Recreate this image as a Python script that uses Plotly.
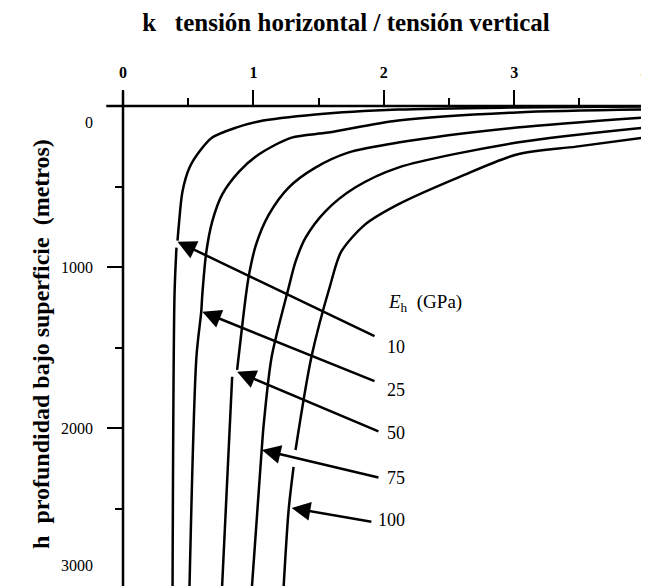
import plotly.graph_objects as go

# ---------------- data ----------------
k_ticks = [0, 1, 2, 3, 4]
depth_ticks = [0, 1000, 2000, 3000]
eh_values = ["10", "25", "50", "75", "100"]

# curve Eh = 10 GPa  (k, depth m); None = small gap where arrow touches
k_10 = [4.00, 3.02, 2.11, 1.475, 1.04, 0.867, 0.684, 0.586, 0.51, 0.456, 0.428, 0.418, None, 0.41, 0.395, 0.38]
z_10 = [3, 9, 22, 53, 96, 134, 196, 283, 382, 531, 740, 835, None, 879, 1171, 2978]

k_25 = [4.00, 3.02, 2.11, 1.574, 1.293, 1.04, 0.89, 0.76, 0.684, 0.639, 0.608, 0.60, 0.563, 0.51]
z_25 = [22, 40, 90, 165, 196, 301, 407, 550, 717, 904, 1171, 1276, 1556, 2978]

k_50 = [4.00, 3.02, 2.11, 1.726, 1.475, 1.27, 1.118, 1.02, 0.966, 0.943, 0.875, None, 0.837, 0.76]
z_50 = [71, 134, 227, 289, 382, 506, 674, 860, 1047, 1171, 1637, None, 1680, 2978]

k_75 = [4.00, 3.02, 2.11, 1.78, 1.55, 1.40, 1.323, 1.27, 1.14, 1.08, 1.065, 0.989]
z_75 = [134, 227, 382, 506, 655, 817, 966, 1127, 1556, 1966, 2115, 2978]

k_100 = [4.00, 3.475, 3.02, 2.586, 2.106, 1.855, 1.673, 1.59, 1.445, 1.323, None, 1.308, 1.27, 1.232]
z_100 = [196, 252, 301, 438, 612, 736, 904, 1109, 1556, 2134, None, 2239, 2506, 2978]

curves_k = [k_10, k_25, k_50, k_75, k_100]
curves_z = [z_10, z_25, z_50, z_75, z_100]

# arrows from each label to its curve (tip on curve, tail near label)
arrow_tip_k = [0.418, 0.608, 0.875, 1.065, 1.293]
arrow_tip_z = [842, 1276, 1649, 2134, 2494]
arrow_tail_k = [1.94, 1.94, 1.97, 1.97, 1.916]
arrow_tail_z = [1432, 1711, 2022, 2307, 2581]
label_z = [1494, 1761, 2028, 2307, 2568]
# where the depth labels sit on the page (0 and 3000 are offset in the original)
depth_label_pos = [102, 1000, 2000, 2848]

# ---------------- figure ----------------
SERIF = "Liberation Serif"
fig = go.Figure()

for kk, zz, name in zip(curves_k, curves_z, eh_values):
    fig.add_trace(go.Scatter(
        x=kk, y=zz, mode="lines", name=name,
        line=dict(color="black", width=2.5, shape="spline", smoothing=0.8),
        connectgaps=False, showlegend=False, hoverinfo="skip"))

annotations = []
for tk, tz, ak, az in zip(arrow_tip_k, arrow_tip_z, arrow_tail_k, arrow_tail_z):
    annotations.append(dict(
        x=tk, y=tz, xref="x", yref="y", ax=ak, ay=az, axref="x", ayref="y",
        text="", showarrow=True, arrowhead=2, arrowsize=1.5, arrowwidth=2.5,
        arrowcolor="black", standoff=0))

for lbl, lz in zip(eh_values, label_z):
    annotations.append(dict(
        x=2.18, y=lz, xref="x", yref="y", text=lbl, showarrow=False,
        xanchor="right", yanchor="middle",
        font=dict(family=SERIF, size=18, color="black")))

annotations.append(dict(
    x=2.02, y=1220, xref="x", yref="y",
    text="<i>E</i><sub>h</sub>  (GPa)", showarrow=False,
    xanchor="left", yanchor="middle",
    font=dict(family=SERIF, size=19, color="black")))

for lbl, pos in zip(depth_ticks, depth_label_pos):
    annotations.append(dict(
        x=-0.053, y=pos, xref="paper", yref="y", text=str(lbl), showarrow=False,
        xanchor="right", yanchor="middle",
        font=dict(family=SERIF, size=16, color="black")))

annotations.append(dict(
    x=-0.158, y=0.505, xref="paper", yref="paper",
    text="h  profundidad bajo superficie  (metros)", showarrow=False,
    textangle=-90, xanchor="center", yanchor="middle",
    font=dict(family=SERIF, size=24, color="black", weight="bold")))

# the page body adds an 8 px margin, so the figure is 8 px smaller each way
fig.update_layout(
    width=641, height=578,
    margin=dict(l=115, r=0, t=98, b=0, pad=0),
    paper_bgcolor="white", plot_bgcolor="white",
    title=dict(text="<b>k   tensión horizontal / tensión vertical</b>",
               x=(346 - 8) / 641, y=1 - (22 - 8) / 578, xref="container", yref="container",
               xanchor="center", yanchor="middle",
               font=dict(family=SERIF, size=25, color="black")),
    annotations=annotations,
    shapes=[
        dict(type="line", xref="paper", yref="paper", x0=-0.032, x1=1.0, y0=1, y1=1,
             line=dict(color="black", width=2.5)),
        dict(type="line", xref="paper", yref="paper", x0=0, x1=0, y0=0, y1=1.032,
             line=dict(color="black", width=2.5)),
    ],
    xaxis=dict(
        range=[0, 4.01], side="top", showgrid=False, zeroline=False, showline=False,
        tickmode="array", tickvals=k_ticks, ticktext=[str(t) for t in k_ticks],
        ticks="outside", ticklen=15, tickwidth=2, tickcolor="black",
        ticklabelstandoff=6, ticklabeloverflow="allow",
        minor=dict(tickmode="linear", tick0=0, dtick=0.5, ticks="outside",
                   ticklen=7, tickwidth=2, tickcolor="black", showgrid=False),
        tickfont=dict(family=SERIF, size=16, color="black", weight="bold")),
    yaxis=dict(
        range=[2978, 0], showgrid=False, zeroline=False, showline=False,
        tickmode="linear", tick0=0, dtick=1000, showticklabels=False,
        ticks="outside", ticklen=15, tickwidth=2, tickcolor="black",
        minor=dict(tickmode="linear", tick0=0, dtick=500, ticks="outside",
                   ticklen=7, tickwidth=2, tickcolor="black", showgrid=False)),
)

fig.write_html("out.html")
